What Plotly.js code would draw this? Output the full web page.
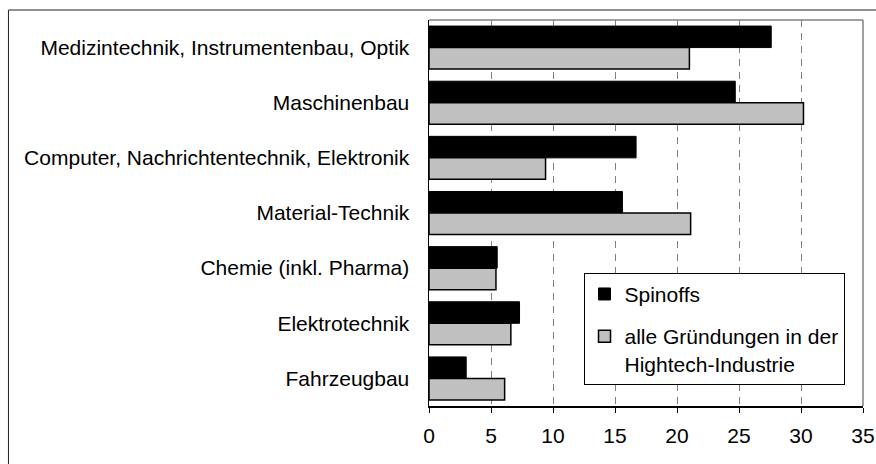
<!DOCTYPE html>
<html>
<head>
<meta charset="utf-8">
<script src="https://cdn.plot.ly/plotly-3.0.1.min.js"></script>
<style>html,body{margin:0;padding:0;background:#fff;overflow:hidden;}#chart{width:876px;height:464px;}</style>
</head>
<body>
<div id="chart"></div>
<script>
const categories = [
  "Medizintechnik, Instrumentenbau, Optik",
  "Maschinenbau",
  "Computer, Nachrichtentechnik, Elektronik",
  "Material-Technik",
  "Chemie (inkl. Pharma)",
  "Elektrotechnik",
  "Fahrzeugbau"
];
const spinoffs = [27.6, 24.7, 16.7, 15.6, 5.5, 7.3, 3.0];
const alleGruendungen = [21.0, 30.2, 9.4, 21.1, 5.4, 6.6, 6.1];
const seriesNames = ["Spinoffs", "alle Gründungen in der<br>Hightech-Industrie"];
const xTicks = [0, 5, 10, 15, 20, 25, 30, 35];

const FONT = "Liberation Sans, Arial, sans-serif";

const traces = [
  {
    type: "bar", orientation: "h", name: seriesNames[0], legendgroup: "a",
    y: categories, x: spinoffs,
    marker: {color: "#000000", line: {color: "#000000", width: 1}}
  },
  {
    type: "bar", orientation: "h", name: seriesNames[1], legendgroup: "b",
    y: categories, x: alleGruendungen,
    marker: {color: "#c0c0c0", line: {color: "#000000", width: 1.5}}
  }
];

const layout = {
  width: 876, height: 464,
  margin: {l: 429, r: 13, t: 20, b: 58, pad: 0},
  paper_bgcolor: "#ffffff", plot_bgcolor: "#ffffff",
  font: {family: FONT, size: 21, color: "#000000"},
  barmode: "group", bargap: 0.22, bargroupgap: 0,
  showlegend: true,
  legend: {
    x: 0.356, y: 0.345, xanchor: "left", yanchor: "top",
    bgcolor: "#ffffff", bordercolor: "#000000", borderwidth: 1,
    font: {family: FONT, size: 21, color: "#000000"},
    traceorder: "grouped", tracegroupgap: 12, valign: "top"
  },
  xaxis: {
    range: [0, 35], tickvals: xTicks, ticktext: xTicks.map(String),
    showgrid: true, gridcolor: "#808080", gridwidth: 1, griddash: "7px,6px",
    showline: true, linecolor: "#000000", linewidth: 1.5,
    ticks: "outside", ticklen: 5, tickcolor: "#000000", tickwidth: 1,
    ticklabelstandoff: 5,
    zeroline: false, fixedrange: true,
    tickfont: {family: FONT, size: 21, color: "#000000"}
  },
  yaxis: {
    type: "category", autorange: "reversed",
    showgrid: false, zeroline: false,
    showline: true, linecolor: "#000000", linewidth: 1.5,
    ticks: "", ticklabelstandoff: 14, fixedrange: true,
    tickfont: {family: FONT, size: 21, color: "#000000"}
  },
  shapes: [
    {type: "line", xref: "paper", yref: "paper", x0: 0, x1: 1, y0: 1, y1: 1,
     line: {color: "#808080", width: 1.5}},
    {type: "line", xref: "paper", yref: "paper", x0: 1, x1: 1, y0: 0, y1: 1,
     line: {color: "#808080", width: 1.5}},
    {type: "line", xref: "paper", yref: "paper", x0: -0.969, x1: 1.1, y0: 1.0259, y1: 1.0259,
     line: {color: "#222222", width: 1}},
    {type: "line", xref: "paper", yref: "paper", x0: -0.969, x1: -0.969, y0: -0.2, y1: 1.0259,
     line: {color: "#222222", width: 1}}
  ]
};

Plotly.newPlot("chart", traces, layout, {displayModeBar: false, staticPlot: true});
</script>
</body>
</html>
